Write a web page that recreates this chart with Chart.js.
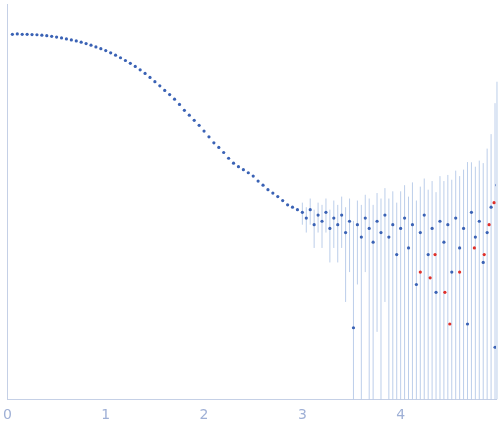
<!DOCTYPE html>
<html lang="en">
<head>
  <meta charset="UTF-8">
  <title>Scattering curve</title>
  <script src="https://cdn.jsdelivr.net/npm/chart.js"></script>
  <style>
    body { margin: 0; background: #fff; }
    #wrap { width: 500px; height: 437px; }
  </style>
</head>
<body>
<div id="wrap"><canvas id="myChart"></canvas></div>
<script>
// smooth low-q part
const qLow = [0.05,0.10,0.15,0.20,0.25,0.30,0.35,0.40,0.45,0.50,0.55,0.60,0.65,0.70,0.75,0.80,0.85,0.90,0.95,1.00,
  1.05,1.10,1.15,1.20,1.25,1.30,1.35,1.40,1.45,1.50,1.55,1.60,1.65,1.70,1.75,1.80,1.85,1.90,1.95,2.00,
  2.05,2.10,2.15,2.20,2.25,2.30,2.35,2.40,2.45,2.50,2.55,2.60,2.65,2.70,2.75,2.80,2.85,2.90,2.95];
const iLow = [0.99,1.0,0.99,0.99,0.985,0.98,0.97,0.96,0.945,0.93,0.91,0.89,0.87,0.85,0.825,0.80,0.77,0.74,0.71,0.68,
  0.645,0.61,0.575,0.54,0.505,0.47,0.435,0.40,0.365,0.33,0.30,0.27,0.245,0.22,0.195,0.17,0.152,0.135,0.12,0.105,
  0.092,0.08,0.072,0.064,0.056,0.05,0.046,0.043,0.04,0.037,0.033,0.030,0.027,0.025,0.023,0.021,0.019,0.018,0.017];

// noisy high-q part
const qHigh = [3.00,3.04,3.08,3.12,3.16,3.20,3.24,3.28,3.32,3.36,3.40,3.44,3.48,3.52,3.56,3.60,3.64,3.68,3.72,3.76,
  3.80,3.84,3.88,3.92,3.96,4.00,4.04,4.08,4.12,4.16,4.20,4.24,4.28,4.32,4.36,4.40,4.44,4.48,4.52,4.56,
  4.60,4.64,4.68,4.72,4.76,4.80,4.84,4.88,4.92,4.96,4.98];
const iHigh = [0.016,0.014,0.017,0.012,0.015,0.013,0.016,0.011,0.014,0.012,0.015,0.010,0.013,0.0011,0.012,0.009,0.014,0.011,0.008,0.013,
  0.010,0.015,0.009,0.012,0.006,0.011,0.014,0.007,0.012,0.003,0.010,0.015,0.006,0.011,0.0025,0.013,0.008,0.012,0.004,0.014,
  0.007,0.011,0.0012,0.016,0.009,0.013,0.005,0.010,0.018,0.0007,0.03];
const errHigh = [0.004,0.004,0.005,0.005,0.005,0.006,0.006,0.006,0.007,0.007,0.008,0.008,0.009,0.012,0.009,0.010,0.010,0.011,0.011,0.012,
  0.012,0.013,0.013,0.014,0.014,0.015,0.016,0.016,0.020,0.018,0.019,0.02,0.021,0.022,0.023,0.024,0.025,0.026,0.03,0.028,
  0.03,0.032,0.05,0.035,0.037,0.04,0.045,0.06,0.08,0.2,0.3];

// red points
const qRed = [4.20,4.30,4.35,4.45,4.50,4.60,4.75,4.85,4.90,4.95];
const iRed = [0.004,0.0035,0.006,0.0025,0.0012,0.004,0.007,0.006,0.012,0.02];

const errorBars = {
  id: 'errorBars',
  beforeDatasetsDraw(chart) {
    const { ctx, scales: { x, y }, chartArea } = chart;
    ctx.save();
    ctx.strokeStyle = 'rgba(160,185,225,0.7)';
    ctx.lineWidth = 1;
    qHigh.forEach((q, i) => {
      const lo = iHigh[i] - errHigh[i];
      const yLo = lo > 0 ? y.getPixelForValue(lo) : chartArea.bottom;
      const yHi = Math.max(chartArea.top, y.getPixelForValue(iHigh[i] + errHigh[i]));
      const px = x.getPixelForValue(q);
      ctx.beginPath();
      ctx.moveTo(px, Math.min(yLo, chartArea.bottom));
      ctx.lineTo(px, yHi);
      ctx.stroke();
    });
    ctx.restore();
  }
};

const ctx = document.getElementById('myChart').getContext('2d');
new Chart(ctx, {
  type: 'scatter',
  data: {
    datasets: [
      { data: qLow.map((q, i) => ({ x: q, y: iLow[i] })), backgroundColor: '#3a62b5', borderWidth: 0, pointRadius: 1.6 },
      { data: qHigh.map((q, i) => ({ x: q, y: iHigh[i] })), backgroundColor: '#3a62b5', borderWidth: 0, pointRadius: 1.6 },
      { data: qRed.map((q, i) => ({ x: q, y: iRed[i] })), backgroundColor: '#e0302a', borderWidth: 0, pointRadius: 1.6 }
    ]
  },
  options: {
    animation: false,
    responsive: true,
    maintainAspectRatio: false,
    layout: { padding: { top: 0, right: 0, left: -2, bottom: 10 } },
    plugins: { legend: { display: false }, tooltip: { enabled: false } },
    scales: {
      x: {
        type: 'linear', min: 0, max: 4.97,
        grid: { display: false, drawTicks: true, tickLength: 5, color: '#c5d0e6' },
        border: { color: '#c5d0e6' },
        ticks: { stepSize: 1, color: '#9fb0d6', font: { size: 14, family: 'DejaVu Sans' },
          callback: v => Number.isInteger(v) ? v : '' }
      },
      y: {
        type: 'logarithmic', min: 0.00021, max: 2,
        afterBuildTicks: s => { s.ticks = [0.001, 0.01, 0.1].map(v => ({ value: v })); },
        grid: { display: false, drawTicks: true, tickLength: 4, color: '#c5d0e6' },
        border: { color: '#c5d0e6' },
        ticks: { display: false }
      }
    }
  },
  plugins: [errorBars]
});
</script>
</body>
</html>
